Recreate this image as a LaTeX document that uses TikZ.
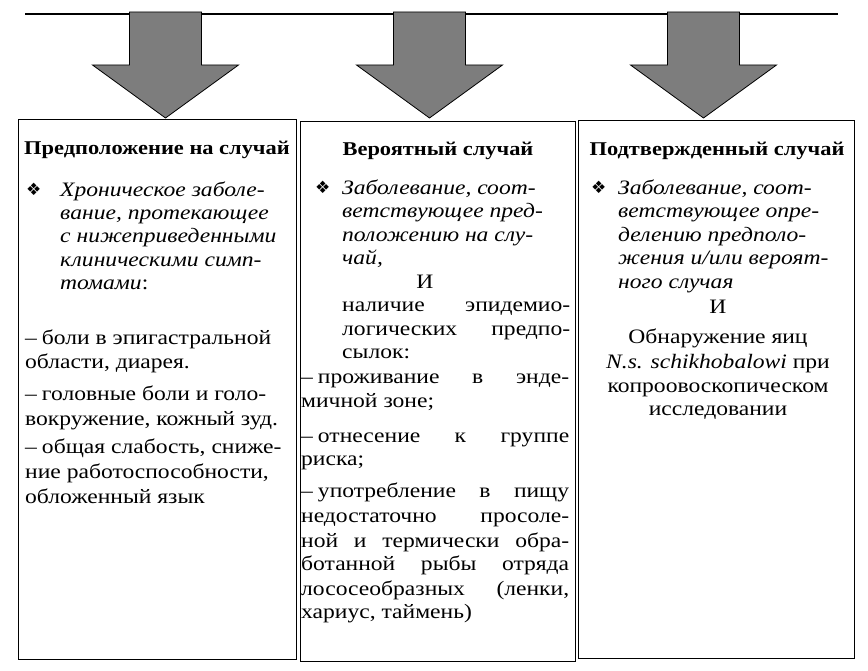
\documentclass[tikz,border=0pt]{standalone}
\usepackage{fontspec}
\setmainfont{Liberation Serif}[FakeStretch=1.15]
\newfontfamily\dejavu{DejaVu Sans}
\definecolor{arrgray}{HTML}{7D7D7D}
\newcommand\fs{\fontsize{20.5}{24}\selectfont}
\newcommand\ft{\fontsize{19.5}{23}\selectfont}
\newcommand\jl[2]{\makebox[#1pt][s]{#2}}
\newcommand\dsh{–\kern5pt}
\begin{document}
\begin{tikzpicture}[x=1pt,y=-1pt,
  box/.style={draw=black, line width=1pt, inner sep=0, anchor=north west},
  arr/.style={draw=black, line width=0.8pt, fill=arrgray, line join=miter},
  ttl/.style={anchor=base, inner sep=0, font=\ft\bfseries},
  tl/.style={anchor=base west, inner sep=0, font=\fs},
  tc/.style={anchor=base, inner sep=0, font=\fs},
  itl/.style={anchor=base west, inner sep=0, font=\fs\itshape},
  bul/.style={anchor=base west, inner sep=0, font=\dejavu\fontsize{17}{17}\selectfont}]
\useasboundingbox (0,0) rectangle (868,671);
% top line
\coordinate (L0) at (25,14);
\coordinate (L1) at (838,14);
\draw[line width=1.5pt] (L0) -- (L1);
% boxes
\node[box, minimum width=278pt, minimum height=540pt] (b1) at (18,119) {};
\node[box, minimum width=275pt, minimum height=540pt] (b2) at (300,121) {};
\node[box, minimum width=276pt, minimum height=538pt] (b3) at (578,120) {};
% arrows
\foreach \c in {165.5,429.5,703.5}
  \draw[arr] (\c-36,12) -- (\c+36,12) -- (\c+36,65) -- (\c+73,65) -- (\c,118) -- (\c-73,65) -- (\c-36,65) -- cycle;
% box 1
\node[ttl] (t1) at (157,155) {Предположение на случай};
\node[bul] (u1) at (26,196) {❖};
\node[itl] (p1a) at (60,197) {Хроническое заболе-};
\node[itl] (p1b) at (60,220) {вание, протекающее};
\node[itl] (p1c) at (60,243) {с нижеприведенными};
\node[itl] (p1d) at (60,267) {клиническими симп-};
\node[itl] (p1e) at (60,290) {томами\upshape:};
\node[tl] (q1a) at (25,344) {\dsh боли в эпигастральной};
\node[tl] (q1b) at (25,368) {области, диарея.};
\node[tl] (q1c) at (25,400) {\dsh головные боли и голо-};
\node[tl] (q1d) at (25,425) {вокружение, кожный зуд.};
\node[tl] (q1e) at (25,453) {\dsh общая слабость, сниже-};
\node[tl] (q1f) at (25,478) {ние работоспособности,};
\node[tl] (q1g) at (25,503) {обложенный язык};
% box 2
\node[ttl] (t2) at (438,156) {Вероятный случай};
\node[bul] (u2) at (315,194) {❖};
\node[itl] (p2a) at (342,195) {Заболевание, соот-};
\node[itl] (p2b) at (342,218) {ветствующее пред-};
\node[itl] (p2c) at (342,242) {положению на слу-};
\node[itl] (p2d) at (342,265) {чай,};
\node[tc] (and2) at (425,288) {И};
\node[tl] (r2a) at (342,312) {\jl{228}{наличие эпидемио-}};
\node[tl] (r2b) at (342,335) {\jl{228}{логических предпо-}};
\node[tl] (r2c) at (342,358) {сылок:};
\node[tl] (s2a) at (301,383) {\jl{268}{\dsh проживание в энде-}};
\node[tl] (s2b) at (301,407) {мичной зоне;};
\node[tl] (s2c) at (301,442) {\jl{268}{\dsh отнесение к группе}};
\node[tl] (s2d) at (301,465) {риска;};
\node[tl] (s2e) at (301,497) {\jl{268}{\dsh употребление в пищу}};
\node[tl] (s2f) at (301,522) {\jl{268}{недостаточно просоле-}};
\node[tl] (s2g) at (301,547) {\jl{268}{ной и термически обра-}};
\node[tl] (s2h) at (301,570) {\jl{268}{ботанной рыбы отряда}};
\node[tl] (s2i) at (301,595) {\jl{268}{лососеобразных (ленки,}};
\node[tl] (s2j) at (301,618) {хариус, таймень)};
% box 3
\node[ttl] (t3) at (717,156) {Подтвержденный случай};
\node[bul] (u3) at (591,194) {❖};
\node[itl] (p3a) at (618,195) {Заболевание, соот-};
\node[itl] (p3b) at (618,218) {ветствующее опре-};
\node[itl] (p3c) at (618,242) {делению предполо-};
\node[itl] (p3d) at (618,265) {жения и/или вероят-};
\node[itl] (p3e) at (618,288) {ного случая};
\node[tc] (and3) at (718,313) {И};
\node[tc] (r3a) at (718,343) {Обнаружение яиц};
\node[tc] (r3b) at (718,368) {\textit{N.s. schikhobalowi} при};
\node[tc] (r3c) at (718,392) {копроовоскопическом};
\node[tc] (r3d) at (718,415) {исследовании};
\end{tikzpicture}
\end{document}
